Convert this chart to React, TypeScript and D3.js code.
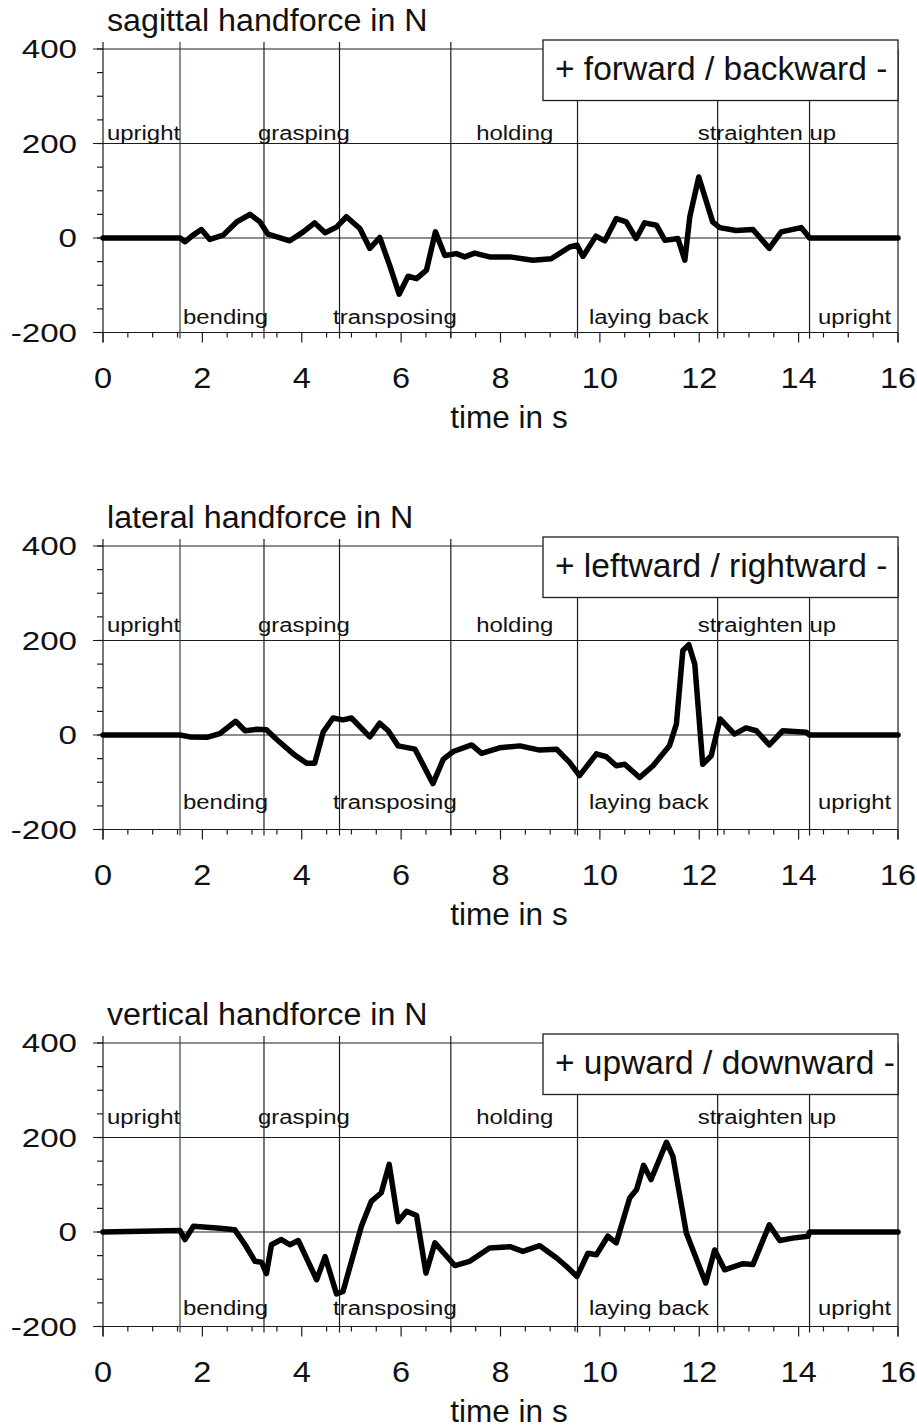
import * as d3 from "d3";

// handforce traces, [time in s, force in N]
const sagittal: [number, number][] = [
  [0, 0], [1.55, 0], [1.65, -8], [1.8, 5], [1.98, 18], [2.15, -3], [2.42, 6], [2.69, 34],
  [2.96, 50], [3.16, 34], [3.32, 8], [3.76, -6], [4.03, 13], [4.26, 32], [4.47, 11],
  [4.7, 23], [4.9, 45], [5.17, 20], [5.37, -22], [5.57, 1], [5.77, -58], [5.96, -119],
  [6.14, -81], [6.31, -86], [6.51, -68], [6.69, 13], [6.88, -37], [7.11, -33], [7.28, -40],
  [7.48, -32], [7.78, -40], [8.19, -40], [8.65, -47], [9.02, -44], [9.39, -19], [9.54, -15],
  [9.66, -39], [9.92, 4], [10.1, -6], [10.33, 41], [10.53, 34], [10.73, -1], [10.9, 32],
  [11.14, 27], [11.31, -5], [11.57, -1], [11.71, -47], [11.81, 45], [11.99, 129],
  [12.27, 34], [12.41, 22], [12.74, 16], [13.08, 18], [13.41, -22], [13.65, 13],
  [14.05, 22], [14.19, 4], [14.22, 0], [16, 0],
];

const lateral: [number, number][] = [
  [0, 0], [1.55, 0], [1.75, -4], [2.09, -5], [2.35, 3], [2.67, 29], [2.86, 9], [3.09, 12],
  [3.29, 11], [3.49, -9], [3.83, -40], [4.1, -60], [4.26, -60], [4.43, 6], [4.63, 36],
  [4.83, 32], [5.0, 36], [5.37, -4], [5.57, 25], [5.74, 9], [5.94, -23], [6.28, -30],
  [6.64, -103], [6.85, -51], [7.05, -35], [7.42, -21], [7.62, -39], [7.98, -27],
  [8.39, -23], [8.79, -32], [9.13, -30], [9.39, -58], [9.59, -86], [9.93, -40],
  [10.13, -46], [10.33, -65], [10.5, -62], [10.8, -90], [11.07, -65], [11.4, -23],
  [11.54, 23], [11.67, 179], [11.79, 191], [11.91, 150], [12.07, -62], [12.24, -44],
  [12.42, 34], [12.71, 2], [12.94, 15], [13.15, 9], [13.41, -21], [13.68, 9], [14.15, 6],
  [14.22, 0], [16, 0],
];

const vertical: [number, number][] = [
  [0, 0], [1.55, 3], [1.65, -16], [1.82, 12], [2.35, 8], [2.65, 5], [2.86, -27],
  [3.06, -62], [3.19, -64], [3.29, -88], [3.39, -27], [3.59, -16], [3.76, -27],
  [3.93, -18], [4.3, -101], [4.47, -52], [4.7, -131], [4.83, -126], [5.2, 12], [5.4, 65],
  [5.6, 83], [5.76, 143], [5.94, 22], [6.11, 44], [6.31, 35], [6.5, -87], [6.68, -23],
  [7.08, -71], [7.38, -62], [7.78, -34], [8.19, -31], [8.45, -41], [8.79, -29],
  [9.13, -55], [9.33, -73], [9.54, -94], [9.76, -45], [9.93, -48], [10.16, -9],
  [10.33, -23], [10.6, 72], [10.74, 90], [10.88, 141], [11.03, 111], [11.34, 190],
  [11.47, 160], [11.74, -2], [12.13, -108], [12.31, -38], [12.51, -80], [12.88, -67],
  [13.08, -69], [13.41, 15], [13.62, -18], [13.88, -13], [14.19, -9], [14.22, 0], [16, 0],
];

const titles = ["sagittal handforce in N", "lateral handforce in N", "vertical handforce in N"];
const legends = ["+ forward / backward -", "+ leftward / rightward -", "+ upward / downward -"];

// phase boundaries (s) and phase names
const phaseLines = [1.55, 3.24, 4.76, 7.0, 9.55, 12.37, 14.22];
const topPhases = ["upright", "grasping", "holding", "straighten up"];
const topPhaseAt = [0.08, 3.12, 7.51, 11.97];
const bottomPhases = ["bending", "transposing", "laying back", "upright"];
const bottomPhaseAt = [1.61, 4.63, 9.78, 14.39];

const yTicks = [400, 200, 0, -200];
const xTicks = [0, 2, 4, 6, 8, 10, 12, 14, 16];

const FONT = "'Liberation Sans', Arial, Helvetica, sans-serif";

const Txt = ({ x, y, size, sx = 1, anchor = "start", children }: any) => (
  <text
    transform={`translate(${x},${y}) scale(${sx},1)`}
    fontSize={size}
    fontFamily={FONT}
    textAnchor={anchor}
    fill="#111"
  >
    {children}
  </text>
);

const Panel = ({ top, data, title, legend, topOff, botOff }: any) => {
  const x = d3.scaleLinear().domain([0, 16]).range([103, 898]);
  const y = d3.scaleLinear().domain([-200, 400]).range([top + 283.5, top]);
  const bottom = y(-200);
  const line = d3
    .line<[number, number]>()
    .x((d) => x(d[0]))
    .y((d) => y(d[1]));
  const stroke = "#1c1c1c";
  const minorX = d3.range(0, 16.01, 0.5);
  const minorY = d3.range(-200, 400.1, 50);

  return (
    <g>
      <Txt x={107} y={top - 18} size={31} sx={1.04}>{title}</Txt>

      {yTicks.map((v) => (
        <line key={"g" + v} x1={93} x2={898} y1={y(v)} y2={y(v)} stroke={stroke} strokeWidth={1.2} />
      ))}
      {minorY.map((v) => (
        <line key={"my" + v} x1={97} x2={103} y1={y(v)} y2={y(v)} stroke={stroke} strokeWidth={1.2} />
      ))}
      {minorX.map((t) => (
        <line
          key={"mx" + t}
          x1={x(t)}
          x2={x(t)}
          y1={bottom}
          y2={bottom + (t % 2 === 0 ? 10 : 5)}
          stroke={stroke}
          strokeWidth={1.2}
        />
      ))}

      <line x1={103} x2={103} y1={top - 7} y2={bottom + 10} stroke={stroke} strokeWidth={1.2} />
      <line x1={898} x2={898} y1={top} y2={bottom + 10} stroke={stroke} strokeWidth={1.2} />
      {phaseLines.map((t, i) => (
        <line
          key={"p" + t}
          x1={x(t)}
          x2={x(t)}
          y1={top - 7}
          y2={bottom + 6}
          stroke={i === 0 ? "#2f4f35" : stroke}
          strokeWidth={1.2}
        />
      ))}

      <rect x={543} y={top - 9} width={355} height={60.5} fill="#fff" stroke={stroke} strokeWidth={1.3} />
      <Txt x={555} y={top + 31} size={33.5}>{legend}</Txt>

      {topPhases.map((s, i) => (
        <Txt key={"tp" + i} x={x(topPhaseAt[i])} y={y(200) - topOff} size={21} sx={1.14}>{s}</Txt>
      ))}
      {bottomPhases.map((s, i) => (
        <Txt key={"bp" + i} x={x(bottomPhaseAt[i])} y={bottom - botOff} size={21} sx={1.14}>{s}</Txt>
      ))}

      {yTicks.map((v) => (
        <Txt key={"yl" + v} x={77} y={y(v) + 9.3} size={25.5} sx={1.3} anchor="end">{v}</Txt>
      ))}
      {xTicks.map((t) => (
        <Txt key={"xl" + t} x={x(t)} y={bottom + 55} size={29} sx={1.12} anchor="middle">{t}</Txt>
      ))}
      <Txt x={509} y={bottom + 95} size={31.5} anchor="middle">time in s</Txt>

      <path
        d={line(data) ?? ""}
        fill="none"
        stroke="#000"
        strokeWidth={5.5}
        strokeLinejoin="round"
        strokeLinecap="round"
      />
    </g>
  );
};

export default function App() {
  const series = [sagittal, lateral, vertical];
  const tops = [49, 546, 1043];
  const topOffs = [4, 9, 14];
  const botOffs = [9, 21, 12];
  return (
    <svg
      width={917}
      height={1428}
      style={{ position: "absolute", left: 0, top: 0, display: "block", background: "#fff" }}
    >
      {series.map((d, i) => (
        <Panel
          key={i}
          top={tops[i]}
          data={d}
          title={titles[i]}
          legend={legends[i]}
          topOff={topOffs[i]}
          botOff={botOffs[i]}
        />
      ))}
    </svg>
  );
}
